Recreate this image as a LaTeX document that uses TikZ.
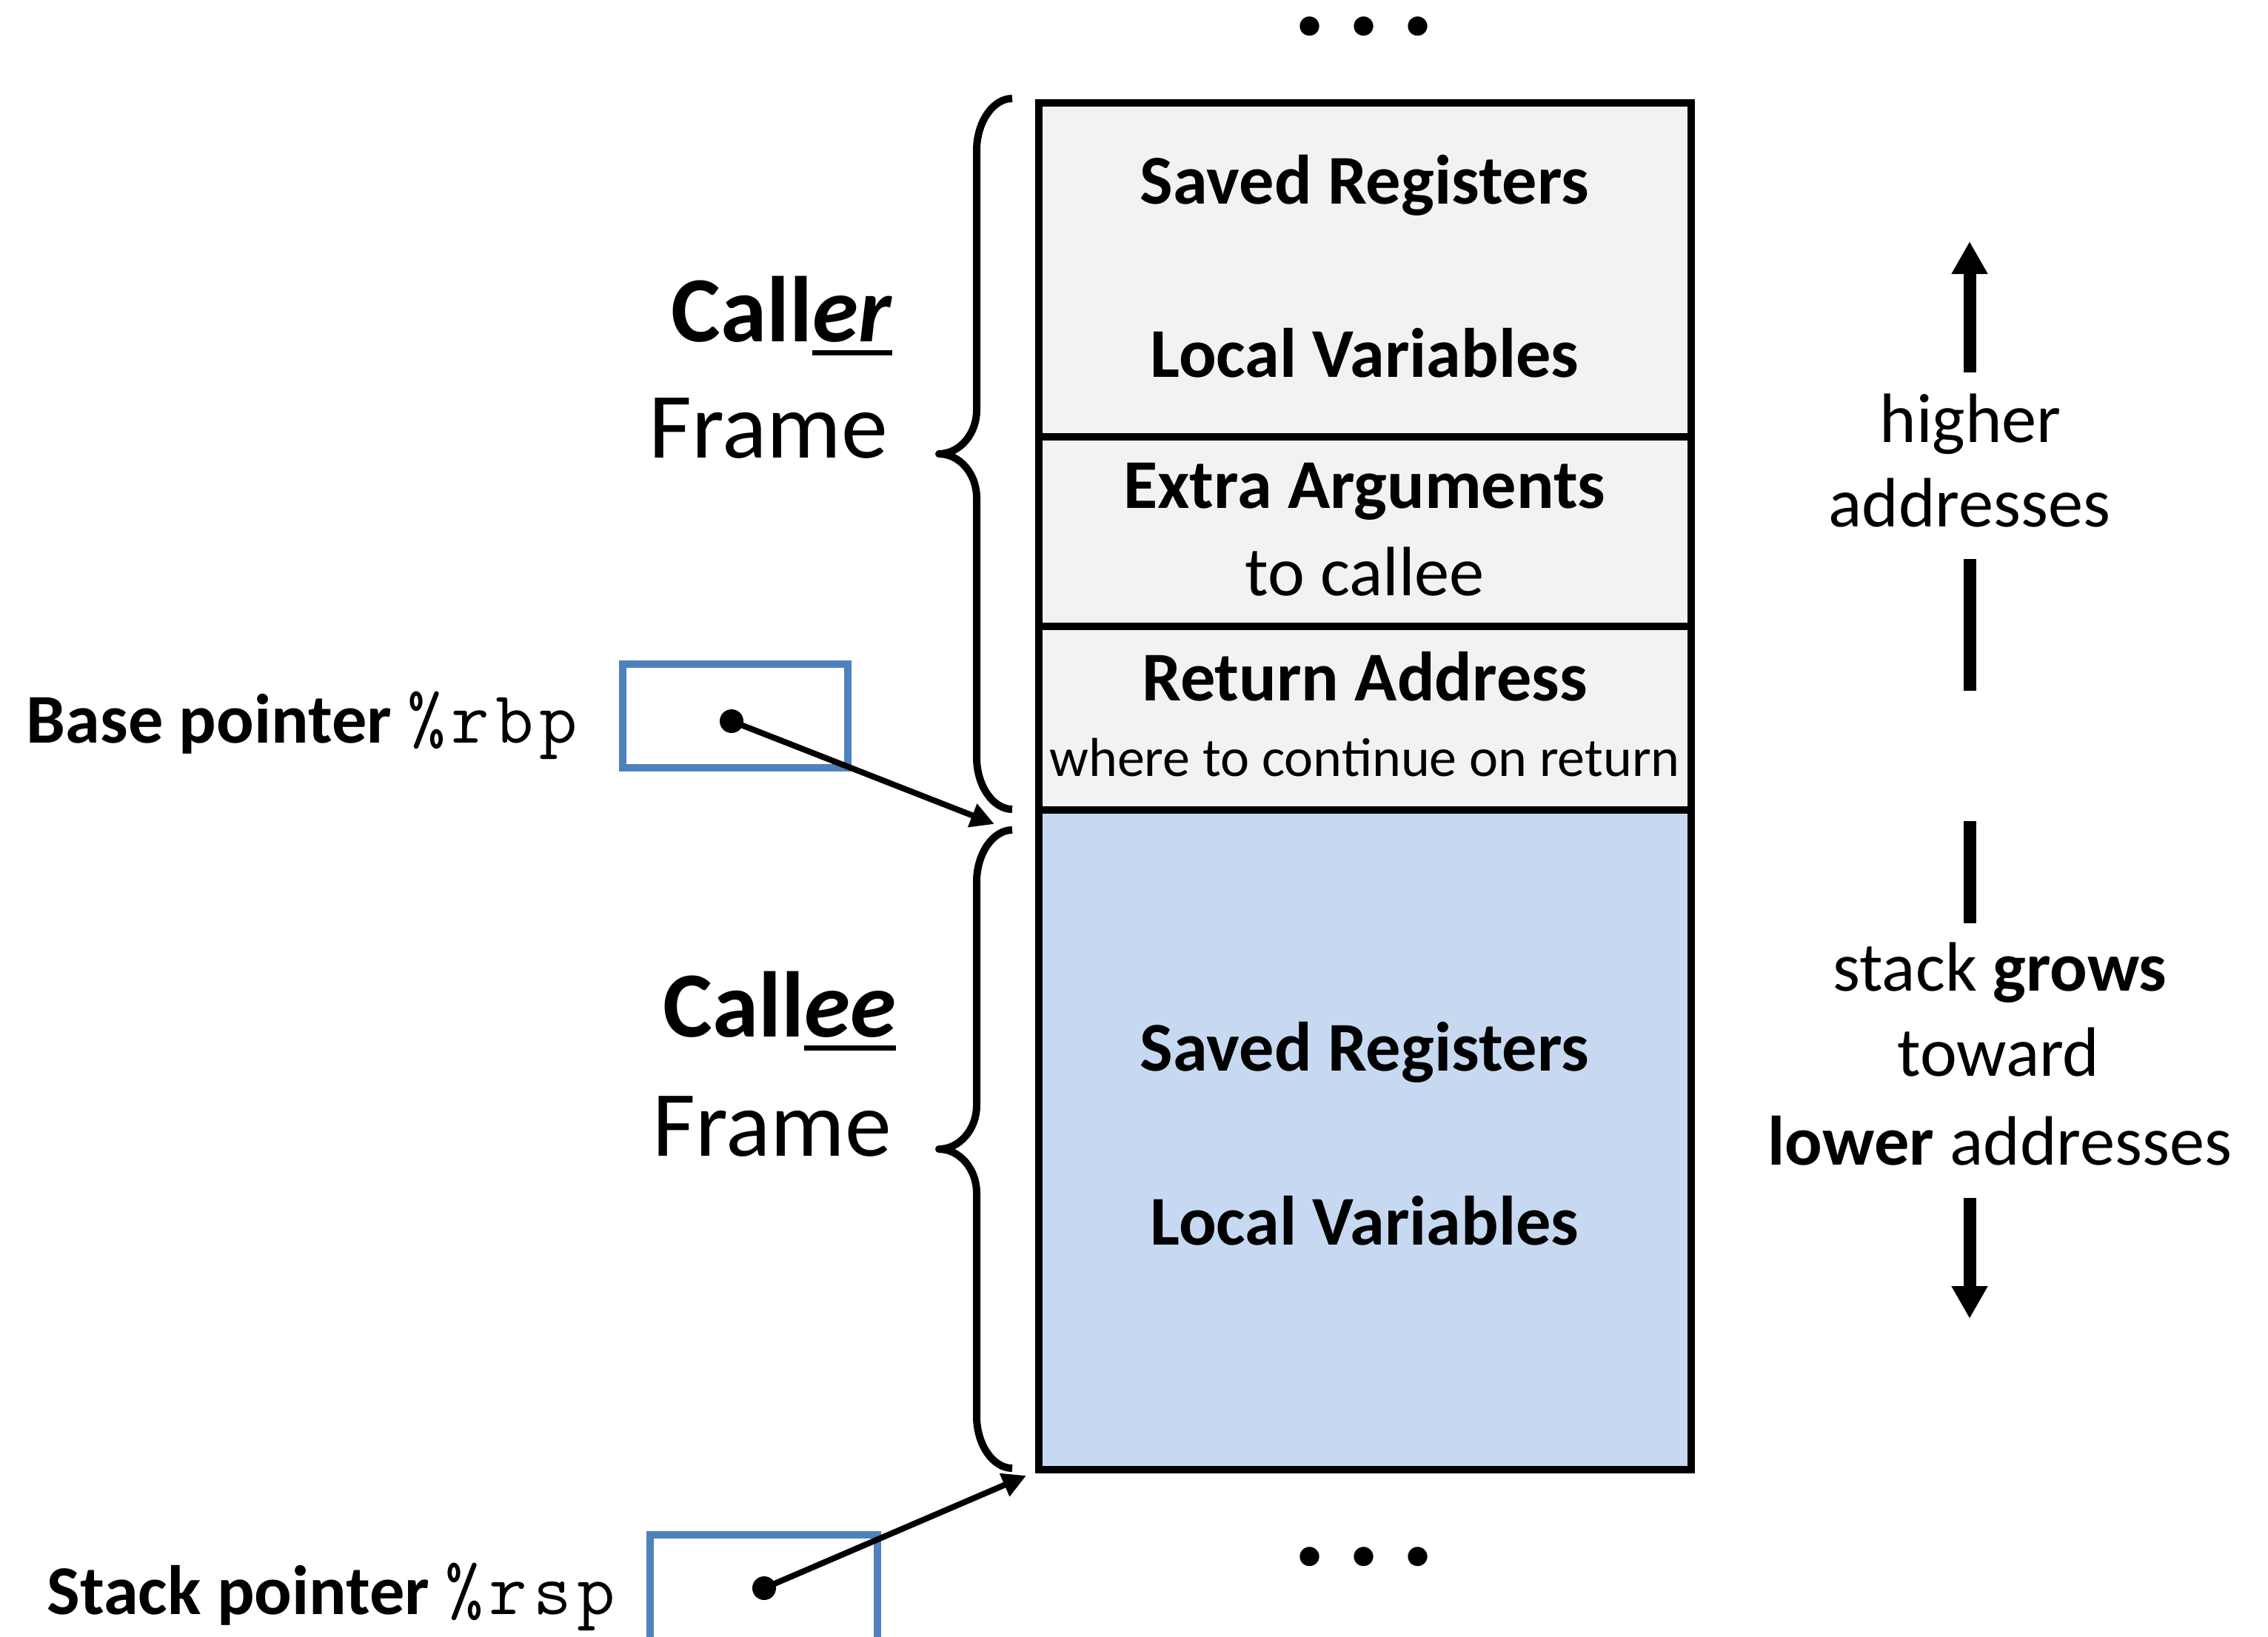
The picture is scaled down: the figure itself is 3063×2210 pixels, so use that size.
\documentclass[tikz,border=0pt]{standalone}
\usepackage{fontspec}
\setmainfont{Carlito}
\usetikzlibrary{arrows.meta}
\definecolor{cellgray}{HTML}{F2F2F2}
\definecolor{cellblue}{HTML}{C6D9F1}
\definecolor{ptrblue}{HTML}{4F81BD}
\newsavebox\ulthickbox
\newcommand\thickul[1]{\sbox\ulthickbox{#1}\rlap{\rule[-4.8pt]{\wd\ulthickbox}{1.75pt}}\usebox\ulthickbox}
\newcommand\codetxt[1]{{\fontsize{25}{30}\selectfont\ttfamily #1}}
\newcommand\ck{\kern2pt}
\newcommand\onedot{\makebox[18.25pt]{.}}
\tikzset{
  txt/.style={inner sep=0pt, anchor=base, font=\fontsize{23.6}{28}\selectfont},
  bigtxt/.style={inner sep=0pt, anchor=base east, font=\fontsize{31.5}{38}\selectfont},
  smalltxt/.style={inner sep=0pt, anchor=base, font=\fontsize{18.5}{22}\selectfont},
  dotstxt/.style={inner sep=0pt, anchor=base, font=\fontsize{44}{46}\selectfont\bfseries},
  cell/.style={draw=black, line width=2.7pt},
  ptrbox/.style={draw=ptrblue, line width=2.3pt},
  bracepath/.style={draw=black, line width=2.5pt, line join=round},
  ptrdot/.style={circle, fill=black, inner sep=0pt, minimum size=8pt},
  ptrarrow/.style={line width=2pt, -{Triangle[length=8pt,width=8pt]}},
  dirarrow/.style={line width=4.25pt, -{Triangle[length=11pt,width=11.5pt]}},
  dirseg/.style={line width=4.25pt},
}
\begin{document}
\begin{tikzpicture}[x=0.25pt,y=-0.25pt]
\useasboundingbox (0,0) rectangle (3063,2210);
\clip (0,0) rectangle (3063,2210);
% stack cells
\draw[cell, fill=cellgray] (1403,139) rectangle (2284,590);
\draw[cell, fill=cellgray] (1403,590) rectangle (2284,846);
\draw[cell, fill=cellgray] (1403,846) rectangle (2284,1094);
\draw[cell, fill=cellblue] (1403,1094) rectangle (2284,1985);
% cell texts
\node[txt] (sr1) at (1843,275) {\textbf{Saved Registers}};
\node[txt] (lv1) at (1843,509) {\textbf{Local Variables}};
\node[txt] (ea) at (1843,686) {\textbf{Extra Arguments}};
\node[txt] (tc) at (1843,804) {to callee};
\node[txt] (ra) at (1843,946) {\textbf{Return Address}};
\node[smalltxt] (wc) at (1843,1048) {where to continue on return};
\node[txt] (sr2) at (1843,1446) {\textbf{Saved Registers}};
\node[txt] (lv2) at (1843,1681) {\textbf{Local Variables}};
% dots
\node[dotstxt] (dtop) at (1842,47) {\onedot\onedot\onedot};
\node[dotstxt] (dbot) at (1842,2114) {\onedot\onedot\onedot};
% frame labels
\node[bigtxt] (caller) at (1206,461) {\textbf{Call\thickul{\textit{er}}}};
\node[bigtxt] (frame1) at (1200,618) {Frame};
\node[bigtxt] (callee) at (1211,1400) {\textbf{Call\thickul{\textit{ee}}}};
\node[bigtxt] (frame2) at (1205,1561) {Frame};
% braces
\draw[bracepath] (1367,133) .. controls (1341,133) and (1319,165) .. (1319,203) -- (1319,554) .. controls (1319,586) and (1296,613) .. (1268,613) .. controls (1296,613) and (1319,640) .. (1319,672) -- (1319,1023) .. controls (1319,1061) and (1341,1093) .. (1367,1093);
\draw[bracepath] (1367,1121) .. controls (1341,1121) and (1319,1153) .. (1319,1191) -- (1319,1493) .. controls (1319,1525) and (1296,1552) .. (1268,1552) .. controls (1296,1552) and (1319,1579) .. (1319,1611) -- (1319,1913) .. controls (1319,1951) and (1341,1983) .. (1367,1983);
% base pointer
\node[ptrbox, minimum width=76pt, minimum height=35pt, inner sep=0pt] (rbpbox) at (993,967) {};
\node[txt, anchor=base west] (rbplabel) at (35,1003) {\textbf{Base pointer} \codetxt{\%\ck r\ck b\ck p}};
\node[ptrdot] (rbpdot) at (988,974) {};
\coordinate (rbptip) at (1343,1113);
\draw[ptrarrow] (rbpdot.center) -- (rbptip);
% stack pointer
\draw[ptrbox] (878,2230) -- (878,2073) -- (1185,2073) -- (1185,2230);
\node[txt, anchor=base west] (rsplabel) at (63,2180) {\textbf{Stack pointer} \codetxt{\%\ck r\ck s\ck p}};
\node[ptrdot] (rspdot) at (1032,2145) {};
\coordinate (rsptip) at (1386,1993);
\draw[ptrarrow] (rspdot.center) -- (rsptip);
% direction arrows
\coordinate (upstart) at (2660,503);
\coordinate (upend) at (2660,326);
\coordinate (downstart) at (2660,1618);
\coordinate (downend) at (2660,1781);
\draw[dirarrow] (upstart) -- (upend);
\draw[dirseg] (2660,755) -- (2660,933);
\draw[dirseg] (2660,1109) -- (2660,1247);
\draw[dirarrow] (downstart) -- (downend);
\node[txt] (hi) at (2661,597) {higher};
\node[txt] (addr1) at (2660,711) {addresses};
\node[txt] (sg) at (2701,1338) {stack \textbf{grows}};
\node[txt] (tw) at (2699,1453) {toward};
\node[txt] (la) at (2701,1573) {\textbf{lower} addresses};
\end{tikzpicture}
\end{document}
